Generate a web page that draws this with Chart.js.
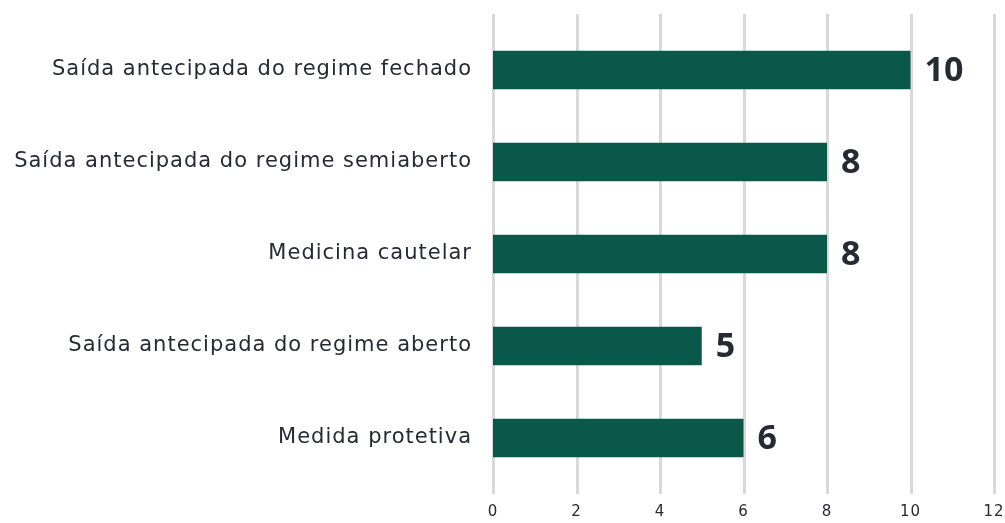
<!DOCTYPE html>
<html><head><meta charset="utf-8">
<script src="https://cdn.jsdelivr.net/npm/chart.js@4"></script>
<style>html,body{margin:0;padding:0;background:#fff;overflow:hidden}#wrap{width:1005px;height:523px}</style>
</head><body><div id="wrap"><canvas id="c"></canvas></div>
<script>
const categories = ["Saída antecipada do regime fechado","Saída antecipada do regime semiaberto","Medicina cautelar","Saída antecipada do regime aberto","Medida protetiva"];
const values = [10, 8, 8, 5, 6];
const xTicks = [0, 2, 4, 6, 8, 10, 12];

const TEXT = '#262a33';
const FONT = "'DejaVu Sans', sans-serif";
const BOLDFONT = "'Open Sans', sans-serif";

const spacingPlugin = {
  id: 'spacing',
  beforeDraw(chart) { chart.ctx.letterSpacing = '1px'; },
  afterDraw(chart) { chart.ctx.letterSpacing = '0px'; }
};

const gridPlugin = {
  id: 'extgrid',
  beforeDatasetsDraw(chart) {
    const ctx = chart.ctx, ca = chart.chartArea, x = chart.scales.x;
    ctx.save();
    ctx.strokeStyle = '#d9d9d9';
    ctx.lineWidth = 3;
    xTicks.forEach(v => {
      const px = Math.round(x.getPixelForValue(v)) + 0.5;
      ctx.beginPath();
      ctx.moveTo(px, ca.top - 10);
      ctx.lineTo(px, ca.bottom + 10);
      ctx.stroke();
    });
    ctx.restore();
  }
};

const labelPlugin = {
  id: 'vlabels',
  afterDatasetsDraw(chart) {
    const ctx = chart.ctx;
    const meta = chart.getDatasetMeta(0);
    ctx.save();
    ctx.letterSpacing = '0px';
    ctx.font = "bold 34px " + BOLDFONT;
    ctx.fillStyle = TEXT;
    ctx.textBaseline = 'middle';
    ctx.textAlign = 'left';
    meta.data.forEach((bar, i) => {
      ctx.fillText(String(values[i]), bar.x + 14, bar.y + 1);
    });
    ctx.restore();
  }
};

new Chart(document.getElementById('c'), {
  type: 'bar',
  data: { labels: categories, datasets: [{ data: values, backgroundColor: '#0a584a', barPercentage: 0.42, categoryPercentage: 1.0 }] },
  options: {
    indexAxis: 'y',
    responsive: true, maintainAspectRatio: false, animation: false,
    layout: { padding: { top: 24, right: 11, left: 0, bottom: 0 } },
    plugins: { legend: { display: false }, tooltip: { enabled: false } },
    scales: {
      x: {
        min: 0, max: 12,
        afterBuildTicks(axis) { axis.ticks = xTicks.map(v => ({ value: v })); },
        afterFit(axis) { axis.paddingRight = 0; axis.paddingLeft = 0; axis.height = 39; },
        grid: { display: false, drawTicks: false },
        border: { display: false },
        ticks: { color: TEXT, font: { family: FONT, size: 15 }, padding: 19 }
      },
      y: {
        grid: { display: false, drawTicks: false },
        border: { display: false },
        afterFit(axis) { axis.width = 493; axis.paddingTop = 0; axis.paddingBottom = 0; },
        ticks: { color: TEXT, font: { family: FONT, size: 21 }, padding: 21 }
      }
    }
  },
  plugins: [spacingPlugin, gridPlugin, labelPlugin]
});
</script></body></html>
